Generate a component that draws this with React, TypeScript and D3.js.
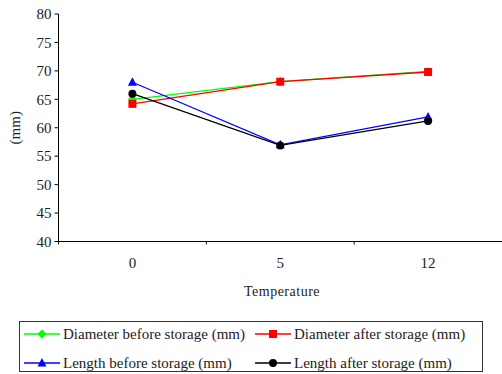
import React from "react";
import * as d3 from "d3";

const categories = ["0", "5", "12"];
const diameterBefore = [65.0, 68.1, 69.9];
const diameterAfter = [64.2, 68.1, 69.8];
const lengthBefore = [68.0, 57.0, 61.9];
const lengthAfter = [66.0, 56.9, 61.2];
const yTicks = [40, 45, 50, 55, 60, 65, 70, 75, 80];

const series = [
  { name: "Diameter before storage (mm)", values: diameterBefore, color: "#00ff00", shape: "diamond" },
  { name: "Diameter after storage (mm)", values: diameterAfter, color: "#ff0000", shape: "square" },
  { name: "Length before storage (mm)", values: lengthBefore, color: "#0000ff", shape: "triangle" },
  { name: "Length after storage (mm)", values: lengthAfter, color: "#000000", shape: "circle" },
];

const width = 502;
const height = 374;
const textStyle = { fontFamily: '"Liberation Serif", "Times New Roman", Times, serif' };

const Marker = ({ shape, color, x, y }: { shape: string; color: string; x: number; y: number }) => {
  if (shape === "square") return <rect x={x - 4} y={y - 4} width={8} height={8} fill={color} />;
  if (shape === "circle") return <circle cx={x} cy={y} r={4} fill={color} />;
  if (shape === "triangle") return <path d={`M${x},${y - 5}L${x + 4.5},${y + 3.5}L${x - 4.5},${y + 3.5}Z`} fill={color} />;
  return <path d={`M${x},${y - 4.5}L${x + 4.5},${y}L${x},${y + 4.5}L${x - 4.5},${y}Z`} fill={color} />;
};

export default function App() {
  const left = 58.5;
  const right = 502;
  const top = 14;
  const bottom = 241.5;

  const x = d3.scaleBand().domain(categories).range([left, right]);
  const y = d3.scaleLinear().domain([40, 80]).range([bottom, top]);
  const cx = (c: string) => (x(c) ?? 0) + x.bandwidth() / 2;

  const line = d3
    .line<number>()
    .x((_, i) => cx(categories[i]))
    .y((d) => y(d));

  const boundaries = categories.slice(1).map((c) => x(c) ?? 0);

  const legendCols = [24, 255];
  const legendRows = [334, 363];

  return (
    <svg
      width={width}
      height={height}
      style={{ position: "absolute", left: 0, top: 0, background: "#fff" }}
    >
      {/* y axis */}
      <line x1={left} x2={left} y1={top} y2={bottom} stroke="#000" strokeWidth={1} />
      {yTicks.map((t) => (
        <g key={t}>
          <line x1={left - 4} x2={left} y1={y(t)} y2={y(t)} stroke="#000" />
          <text x={left - 7} y={y(t)} dy="0.35em" textAnchor="end" fontSize={15} fill="#222" style={textStyle}>
            {t}
          </text>
        </g>
      ))}
      <text
        transform={`translate(20,${(top + bottom) / 2}) rotate(-90)`}
        textAnchor="middle"
        fontSize={15}
        fill="#222"
        style={textStyle}
      >
        (mm)
      </text>

      {/* x axis */}
      <line x1={left} x2={right} y1={bottom} y2={bottom} stroke="#000" strokeWidth={1} />
      {[left, ...boundaries].map((b, i) => (
        <line key={i} x1={b} x2={b} y1={bottom} y2={bottom + 3} stroke="#000" />
      ))}
      {categories.map((c) => (
        <text key={c} x={cx(c)} y={bottom + 21} dy="0.35em" textAnchor="middle" fontSize={15} fill="#222" style={textStyle}>
          {c}
        </text>
      ))}
      <text x={282} y={296} textAnchor="middle" fontSize={14} letterSpacing={0.5} fill="#222" style={textStyle}>
        Temperature
      </text>

      {/* series */}
      {series.map((s) => (
        <g key={s.name}>
          <path d={line(s.values) ?? ""} fill="none" stroke={s.color} strokeWidth={1.3} />
          {s.values.map((v, i) => (
            <Marker key={i} shape={s.shape} color={s.color} x={cx(categories[i])} y={y(v)} />
          ))}
        </g>
      ))}

      {/* legend */}
      <rect x={19.5} y={321.5} width={463} height={50} fill="#fff" stroke="#333" strokeWidth={1} />
      {series.map((s, i) => {
        const lx = legendCols[i % 2];
        const ly = legendRows[Math.floor(i / 2)];
        return (
          <g key={s.name}>
            <line x1={lx} x2={lx + 36} y1={ly} y2={ly} stroke={s.color} strokeWidth={1.3} />
            <Marker shape={s.shape} color={s.color} x={lx + 18} y={ly} />
            <text x={lx + 39} y={ly} dy="0.35em" fontSize={15} fill="#222" style={textStyle}>
              {s.name}
            </text>
          </g>
        );
      })}
    </svg>
  );
}
